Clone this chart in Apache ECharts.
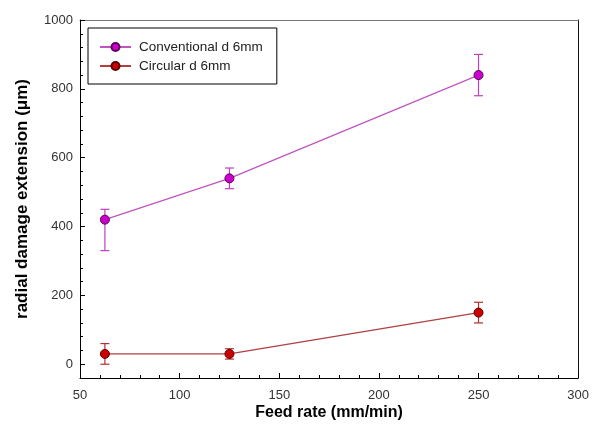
<!DOCTYPE html>
<html>
<head>
<meta charset="utf-8">
<script src="https://cdn.jsdelivr.net/npm/echarts@6/dist/echarts.min.js"></script>
<style>
  html, body { margin: 0; padding: 0; background: #fff; }
  #chart { width: 592px; height: 431px; }
</style>
</head>
<body>
<div id="chart"></div>
<script>
// Feed rate (mm/min) on the x axis
const feedRates = [62.5, 125, 250];

// Radial damage extension (µm), means and error bar limits
const conventionalMean = [420, 540, 840];
const conventionalLow  = [330, 510, 780];
const conventionalHigh = [450, 570, 900];

const circularMean = [30, 30, 150];
const circularLow  = [0, 15, 120];
const circularHigh = [60, 45, 180];

// Tick positions
const yMajorTicks = [0, 200, 400, 600, 800, 1000];
const yMinorTicks = [-40, 0, 40, 80, 120, 160, 200, 240, 280, 320, 360, 400, 440, 480,
                     520, 560, 600, 640, 680, 720, 760, 800, 840, 880, 920, 960, 1000];

const FONT = "'Liberation Sans', Arial, sans-serif";

function pairs(xs, ys) { return xs.map((x, i) => [x, ys[i]]); }
function bars(xs, lo, hi) { return xs.map((x, i) => [x, lo[i], hi[i]]); }

function errorBarRenderer(color) {
  return function (params, api) {
    const x = api.value(0);
    const top = api.coord([x, api.value(2)]);
    const bot = api.coord([x, api.value(1)]);
    const half = 4.5;
    const style = { stroke: color, lineWidth: 1.2 };
    return {
      type: 'group',
      children: [
        { type: 'line', shape: { x1: top[0], y1: top[1], x2: bot[0], y2: bot[1] }, style },
        { type: 'line', shape: { x1: top[0] - half, y1: top[1], x2: top[0] + half, y2: top[1] }, style },
        { type: 'line', shape: { x1: bot[0] - half, y1: bot[1], x2: bot[0] + half, y2: bot[1] }, style }
      ]
    };
  };
}

const chart = echarts.init(document.getElementById('chart'), null, { renderer: 'canvas' });

chart.setOption({
  animation: false,
  backgroundColor: '#ffffff',
  textStyle: { fontFamily: FONT },
  grid: { left: 80, top: 20, right: 13, bottom: 53, containLabel: false },
  legend: {
    left: 88,
    top: 28,
    orient: 'vertical',
    padding: [12, 14, 11, 11],
    itemGap: 5,
    itemWidth: 31,
    itemHeight: 10,
    borderColor: '#000',
    borderWidth: 1,
    textStyle: { fontFamily: FONT, fontSize: 13.5, color: '#222', padding: [0, 0, 0, 3] },
    data: ['Conventional d 6mm', 'Circular d 6mm']
  },
  xAxis: [
    {
      type: 'value',
      min: 50,
      max: 300,
      interval: 50,
      name: 'Feed rate (mm/min)',
      nameLocation: 'middle',
      nameGap: 27,
      nameMoveOverlap: false,
      nameTextStyle: { fontFamily: FONT, fontSize: 16, fontWeight: 'bold', color: '#000' },
      axisLine: { show: true, onZero: false, lineStyle: { color: '#000', width: 1 } },
      axisTick: { show: true, inside: true, length: 5, lineStyle: { color: '#000' } },
      minorTick: { show: true, splitNumber: 5, length: 3, lineStyle: { color: '#000' } },
      axisLabel: { fontFamily: FONT, fontSize: 13, color: '#333', margin: 11 },
      splitLine: { show: false }
    },
    {
      type: 'value',
      position: 'top',
      min: 50,
      max: 300,
      axisLine: { show: true, onZero: false, lineStyle: { color: '#777', width: 1 } },
      axisTick: { show: false },
      axisLabel: { show: false },
      splitLine: { show: false }
    }
  ],
  yAxis: [
    {
      type: 'value',
      min: -40,
      max: 1000,
      name: 'radial damage extension (\u03bcm)',
      nameLocation: 'middle',
      nameRotate: 90,
      nameGap: 49,
      nameTextStyle: { fontFamily: FONT, fontSize: 17, fontWeight: 'bold', color: '#000' },
      axisLine: { show: true, onZero: false, lineStyle: { color: '#000', width: 1 } },
      axisTick: { show: true, inside: true, length: 5, customValues: yMajorTicks, lineStyle: { color: '#000' } },
      axisLabel: {
        fontFamily: FONT, fontSize: 13, color: '#333', margin: 7,
        customValues: yMajorTicks,
        formatter: (v) => String(v)
      },
      splitLine: { show: false }
    },
    {
      type: 'value',
      position: 'left',
      min: -40,
      max: 1000,
      axisLine: { show: false, onZero: false },
      axisTick: { show: true, inside: true, length: 3, customValues: yMinorTicks, lineStyle: { color: '#000' } },
      axisLabel: { show: false },
      splitLine: { show: false }
    },
    {
      type: 'value',
      position: 'right',
      min: -40,
      max: 1000,
      axisLine: { show: true, onZero: false, lineStyle: { color: '#111', width: 1 } },
      axisTick: { show: false },
      axisLabel: { show: false },
      splitLine: { show: false }
    }
  ],
  series: [
    {
      type: 'custom',
      name: 'Conventional error',
      renderItem: errorBarRenderer('#c040c0'),
      data: bars(feedRates, conventionalLow, conventionalHigh),
      encode: { x: 0, y: [1, 2] },
      z: 1,
      silent: true
    },
    {
      type: 'custom',
      name: 'Circular error',
      renderItem: errorBarRenderer('#b03030'),
      data: bars(feedRates, circularLow, circularHigh),
      encode: { x: 0, y: [1, 2] },
      z: 1,
      silent: true
    },
    {
      type: 'line',
      name: 'Conventional d 6mm',
      data: pairs(feedRates, conventionalMean),
      symbol: 'circle',
      symbolSize: 9,
      lineStyle: { color: '#c055c0', width: 1.2 },
      itemStyle: { color: '#cc00cc', borderColor: '#5a005a', borderWidth: 1 },
      z: 3
    },
    {
      type: 'line',
      name: 'Circular d 6mm',
      data: pairs(feedRates, circularMean),
      symbol: 'circle',
      symbolSize: 9,
      lineStyle: { color: '#b04040', width: 1.2 },
      itemStyle: { color: '#cc0000', borderColor: '#5a0000', borderWidth: 1 },
      z: 3
    }
  ]
});
</script>
</body>
</html>
